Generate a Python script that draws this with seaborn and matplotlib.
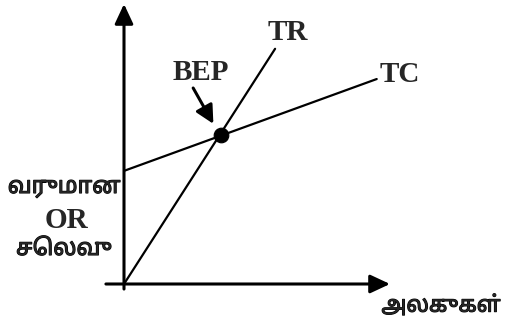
import matplotlib
matplotlib.use("Agg")
import matplotlib.pyplot as plt
import matplotlib.patheffects as pe
import seaborn as sns
import pandas as pd

# break-even chart data (units on x, money on y)
units_tr = [0, 5.68]
revenue = [0, 8.4]
units_tc = [0, 9.5]
cost = [4.04, 7.32]
bep_x = [3.65]
bep_y = [5.33]

y_label = ["வருமான", "OR", "செலவு"]
x_label = "அலகுகள்"

sns.set_style("white")
tamil = ["Noto Sans Tamil", "DejaVu Sans"]
serif = ["Liberation Serif", "DejaVu Serif"]
# no bold Tamil face, so thicken the strokes a little
heavy = [pe.withStroke(linewidth=0.8, foreground="black")]

W, H = 506, 326
fig = plt.figure(figsize=(W / 100, H / 100), dpi=100)
# origin at pixel (124, 284), arrows end at x=390 / y=4
ax = fig.add_axes([124 / W, (H - 284) / H, 266 / W, 280 / H])
ax.set_xlim(0, 10)
ax.set_ylim(0, 10)
ax.axis("off")

tr = pd.DataFrame({"units": units_tr, "value": revenue})
tc = pd.DataFrame({"units": units_tc, "value": cost})
sns.lineplot(data=tr, x="units", y="value", color="black", lw=1.6, ax=ax)
sns.lineplot(data=tc, x="units", y="value", color="black", lw=1.6, ax=ax)
sns.scatterplot(x=bep_x, y=bep_y, color="black", s=110, edgecolor="black", zorder=5, ax=ax)

# axes with arrow heads
arrow = dict(arrowstyle="-|>,head_length=0.6,head_width=0.28", color="black",
             lw=2.2, mutation_scale=20, shrinkA=0, shrinkB=0)
ax.annotate("", xy=(1.0, 0), xytext=(-0.068, 0), xycoords="axes fraction",
            arrowprops=arrow, annotation_clip=False)
ax.annotate("", xy=(0, 1.0), xytext=(0, -0.018), xycoords="axes fraction",
            arrowprops=arrow, annotation_clip=False)

# line labels
ax.text(6.17, 9.0, "TR", family=serif, weight="bold", fontsize=21, ha="center", va="center")
ax.text(10.38, 7.5, "TC", family=serif, weight="bold", fontsize=21, ha="center", va="center")
ax.text(2.9, 7.54, "BEP", family=serif, weight="bold", fontsize=21, ha="center", va="center")
ax.annotate("", xy=(3.36, 5.72), xytext=(2.6, 7.0), annotation_clip=False,
            arrowprops=dict(arrowstyle="-|>,head_length=0.55,head_width=0.28", color="black",
                            lw=2.2, mutation_scale=20, shrinkA=0, shrinkB=0))

# axis titles
fig.text(64 / W, 1 - 187 / H, y_label[0], family=tamil, fontsize=16.5,
         ha="center", va="center", path_effects=heavy)
fig.text(66 / W, 1 - 220 / H, y_label[1], family=serif, weight="bold", fontsize=21,
         ha="center", va="center")
fig.text(64 / W, 1 - 249 / H, y_label[2], family=tamil, fontsize=16.5,
         ha="center", va="center", path_effects=heavy)
fig.text(441 / W, 1 - 306 / H, x_label, family=tamil, fontsize=16,
         ha="center", va="center", path_effects=heavy)

fig.savefig("out.png", dpi=100)
